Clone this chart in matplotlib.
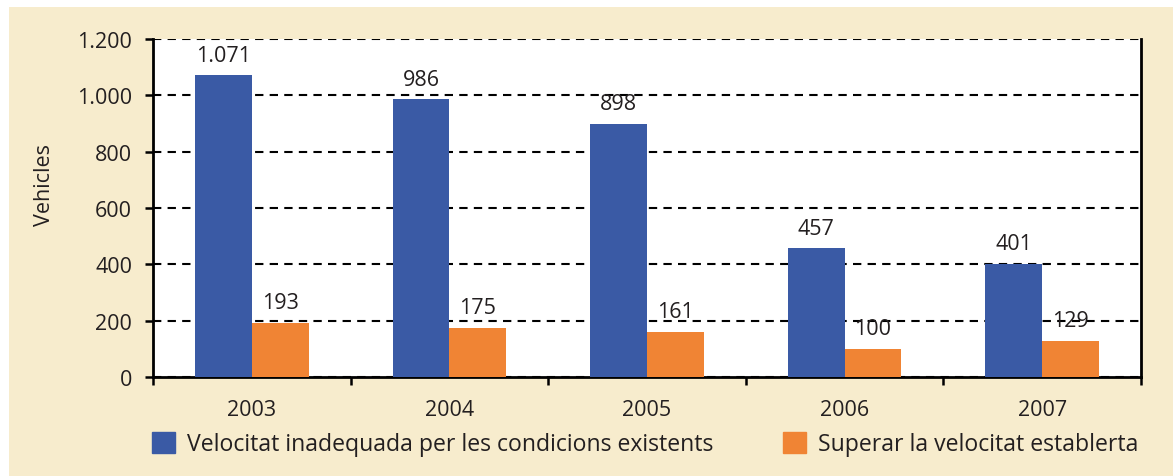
import matplotlib
matplotlib.use("Agg")
import matplotlib.pyplot as plt
from matplotlib.patches import Rectangle
import numpy as np

years = ["2003", "2004", "2005", "2006", "2007"]
inadequada = [1071, 986, 898, 457, 401]
superar = [193, 175, 161, 100, 129]
series_names = ["Velocitat inadequada per les condicions existents",
                "Superar la velocitat establerta"]
y_ticks = [0, 200, 400, 600, 800, 1000, 1200]

BLUE = "#3A5AA5"
ORANGE = "#F08434"
CREAM = "#F7ECCD"
TEXT = "#231F20"
FS = 15.5

plt.rcParams['font.family'] = ['Open Sans', 'DejaVu Sans']
plt.rcParams['font.size'] = FS

def fmt(v):
    return f"{v:,}".replace(",", ".")

W, H = 1173, 477
fig = plt.figure(figsize=(W / 100, H / 100), dpi=100, facecolor="white")
fig.patches.append(Rectangle((9 / W, 0), 1 - 9 / W, 1 - 8 / H, transform=fig.transFigure,
                             facecolor=CREAM, edgecolor="none", zorder=-10))

ax = fig.add_axes([153 / W, 99 / H, (1141 - 153) / W, (378 - 40) / H])
ax.set_zorder(1)
ax.set_facecolor("white")

x = np.arange(len(years))
w = 0.287
b1 = ax.bar(x - w / 2, inadequada, w, color=BLUE, zorder=3, label=series_names[0])
b2 = ax.bar(x + w / 2, superar, w, color=ORANGE, zorder=3, label=series_names[1])

for bars, vals in ((b1, inadequada), (b2, superar)):
    for r, v in zip(bars, vals):
        ax.annotate(fmt(v), (r.get_x() + r.get_width() / 2, v), xytext=(0, 7),
                    textcoords="offset points", ha="center", va="bottom",
                    fontsize=FS, color=TEXT, zorder=4)

ax.set_xlim(-0.5, len(years) - 0.5)
ax.set_ylim(0, 1200)
ax.set_yticks(y_ticks)
ax.set_yticklabels([fmt(v) for v in y_ticks])
ax.yaxis.grid(True, color="black", linestyle=(0, (4.0, 3.0)), linewidth=1.5, zorder=1)
ax.set_axisbelow(True)

ax.set_xticks(x)
ax.set_xticklabels(years)
ax.set_xticks(np.arange(len(years) + 1) - 0.5, minor=True)
ax.tick_params(axis="x", which="major", length=0, pad=16, labelsize=FS, colors=TEXT)
ax.tick_params(axis="x", which="minor", length=6, width=1.8, direction="out", color="black")
ax.tick_params(axis="y", which="major", length=6, width=1.8, direction="out", pad=9,
               labelsize=FS, labelcolor=TEXT)

for s in ("left", "bottom", "right"):
    ax.spines[s].set_linewidth(2)
    ax.spines[s].set_color("black")
ax.spines["top"].set_visible(False)

fig.text(44 / W, 1 - 185 / H, "Vehicles", rotation=90, ha="center", va="center",
         fontsize=FS, color=TEXT)

h1 = Rectangle((0, 0), 1, 1, color=BLUE)
h2 = Rectangle((0, 0), 1, 1, color=ORANGE)
leg = fig.legend([h1, h2], series_names, loc="center left",
                 bbox_to_anchor=(152 / W, 1 - 445 / H), ncol=2, frameon=False,
                 borderpad=0, borderaxespad=0, handlelength=1.0, handleheight=1.0,
                 handletextpad=0.52, columnspacing=3.0, fontsize=16.6)
for t in leg.get_texts():
    t.set_color(TEXT)

fig.savefig("out.png", dpi=100, facecolor="white")
